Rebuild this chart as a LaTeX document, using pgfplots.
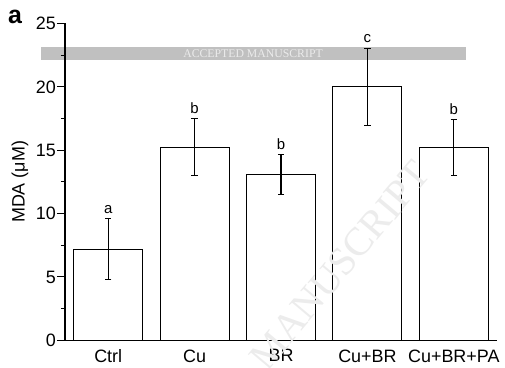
\documentclass[border=0pt]{standalone}
\usepackage{fontspec}
\setmainfont{Liberation Sans}
\newfontfamily\seriffont{Liberation Serif}
\usepackage{pgfplots}
\pgfplotsset{compat=1.18}
\definecolor{band}{RGB}{192,192,192}
\begin{document}
\begin{tikzpicture}[x=1bp,y=1bp]
\path[use as bounding box] (-65,-26.7) rectangle (440,340.3);
\fill[band] (-24,280.3) rectangle (401,293.3);
\node[text=white!92!black, font=\seriffont\fontsize{11.8}{13}\selectfont, inner sep=0pt] at (188,286.8) {ACCEPTED MANUSCRIPT};
\begin{axis}[
  at={(0,0)}, anchor=south west, scale only axis,
  width=432bp, height=316.8bp,
  xmin=-0.5, xmax=4.5, ymin=0, ymax=25,
  axis lines*=left,
  axis line style={line width=1.1bp},
  xtick={0,1,2,3,4},
  xticklabels={Ctrl,Cu,BR,Cu+BR,Cu+BR+PA},
  major x tick style={draw=none},
  ytick={0,5,10,15,20,25},
  minor y tick num=1,
  tick align=outside,
  major tick length=8bp, minor tick length=4bp,
  tick style={line width=1.1bp, black},
  /pgf/number format/assume math mode=true,
  ticklabel style={font=\fontsize{18}{20}\selectfont},
  yticklabel style={inner sep=1bp},
  xticklabel style={inner sep=0pt, yshift=-1bp},
  ylabel={MDA (μM)},
  ylabel style={font=\fontsize{18}{20}\selectfont, yshift=3bp},
  clip=false,
]
\addplot[ybar, bar width=69bp, bar shift=0pt, draw=black, fill=white, line width=1.1bp,
  error bars/.cd, y dir=both, y explicit,
  error bar style={line width=1.1bp, black},
  error mark options={rotate=90, mark size=3.2bp, line width=1.1bp, black}]
  table[x=x, y=y, y error=e] {
x y e
0 7.2 2.4
1 15.25 2.25
2 13.1 1.57
3 20.0 3.05
4 15.2 2.2
};
\addplot[draw=none, mark=none, nodes near coords, point meta=explicit symbolic,
  nodes near coords style={anchor=south, inner sep=0pt, yshift=5bp, font=\fontsize{15}{17}\selectfont}]
  table[x=x, y expr=\thisrow{y}+\thisrow{e}, meta=l] {
x y e l
0 7.2 2.4 a
1 15.25 2.25 b
2 13.1 1.57 b
3 20.0 3.05 c
4 15.2 2.2 b
};
\end{axis}
\node[rotate=50, text=gray!15, font=\seriffont\fontsize{40}{44}\selectfont, inner sep=0pt] at (275,75) {MANUSCRIPT};
\node[anchor=base west, font=\bfseries\fontsize{25}{28}\selectfont, inner sep=0pt] at (-57,317.3) {a};
\end{tikzpicture}
\end{document}
